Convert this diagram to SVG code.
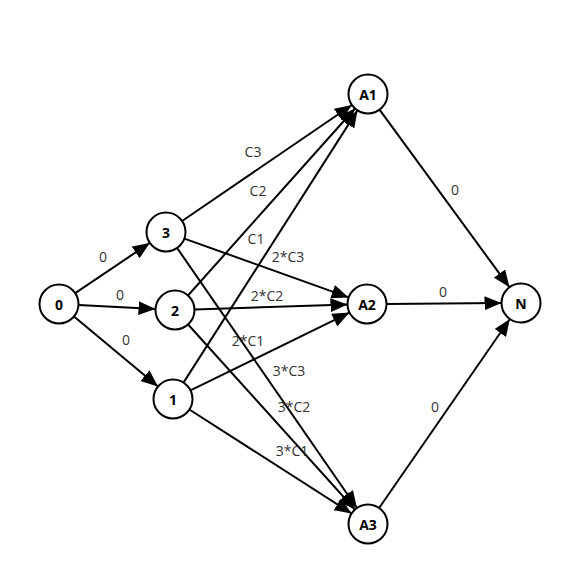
<svg xmlns="http://www.w3.org/2000/svg" width="580" height="580" viewBox="0 0 580 580">
<style>
.node circle{fill:#fff;stroke:#000;stroke-width:2}
.node text{font-family:"Open Sans","DejaVu Sans",sans-serif;font-size:14px;font-weight:bold;text-anchor:middle;dominant-baseline:central;fill:#000}
.edges line{stroke:#000;stroke-width:2;marker-end:url(#arr)}
.lbl text{font-family:"Open Sans","DejaVu Sans",sans-serif;font-size:14px;fill:#333;text-anchor:middle;dominant-baseline:central}
</style>
<defs>
<marker id="arr" markerUnits="userSpaceOnUse" markerWidth="18" markerHeight="14" refX="17" refY="7" orient="auto">
<path d="M0,0 L17,7 L0,14 z" fill="#000"/>
</marker>
</defs>
<rect width="580" height="580" fill="#fff"/>
<g class="edges" id="connectors">
<line x1="75.2" y1="293.1" x2="149.8" y2="242.9"/>
<line x1="78.5" y1="305.0" x2="155.5" y2="309.0"/>
<line x1="74.0" y1="316.5" x2="158.0" y2="386.5"/>
<line x1="182.1" y1="221.0" x2="351.9" y2="105.0"/>
<line x1="188.0" y1="295.5" x2="355.0" y2="108.5"/>
<line x1="183.5" y1="382.6" x2="357.5" y2="110.4"/>
<line x1="184.4" y1="238.6" x2="348.6" y2="297.4"/>
<line x1="194.5" y1="309.4" x2="347.5" y2="304.6"/>
<line x1="190.5" y1="390.4" x2="349.5" y2="312.6"/>
<line x1="177.1" y1="248.0" x2="356.9" y2="508.0"/>
<line x1="188.1" y1="324.5" x2="354.9" y2="509.5"/>
<line x1="189.4" y1="409.5" x2="351.6" y2="513.5"/>
<line x1="379.5" y1="109.7" x2="509.5" y2="287.3"/>
<line x1="386.5" y1="303.9" x2="501.5" y2="303.1"/>
<line x1="379.1" y1="508.0" x2="509.9" y2="319.0"/>
</g>
<g class="lbl" id="labels">
<text x="103" y="256">0</text>
<text x="120" y="294">0</text>
<text x="126" y="339">0</text>
<text x="253" y="151">C3</text>
<text x="258" y="190">C2</text>
<text x="256" y="238">C1</text>
<text x="288" y="256">2*C3</text>
<text x="267" y="295">2*C2</text>
<text x="248" y="340">2*C1</text>
<text x="289" y="370">3*C3</text>
<text x="294" y="406">3*C2</text>
<text x="292" y="450">3*C1</text>
<text x="455" y="189">0</text>
<text x="443" y="291">0</text>
<text x="435" y="406">0</text>
</g>
<g class="node" id="n0"><circle cx="59" cy="304" r="19.5"/><text x="59" y="304">0</text></g>
<g class="node" id="n3"><circle cx="166" cy="232" r="19.5"/><text x="166" y="232">3</text></g>
<g class="node" id="n2"><circle cx="175" cy="310" r="19.5"/><text x="175" y="310">2</text></g>
<g class="node" id="n1"><circle cx="173" cy="399" r="19.5"/><text x="173" y="399">1</text></g>
<g class="node" id="nA1"><circle cx="368" cy="94" r="19.5"/><text x="368" y="94">A1</text></g>
<g class="node" id="nA2"><circle cx="367" cy="304" r="19.5"/><text x="367" y="304">A2</text></g>
<g class="node" id="nA3"><circle cx="368" cy="524" r="19.5"/><text x="368" y="524">A3</text></g>
<g class="node" id="nN"><circle cx="521" cy="303" r="19.5"/><text x="521" y="303">N</text></g>
</svg>
